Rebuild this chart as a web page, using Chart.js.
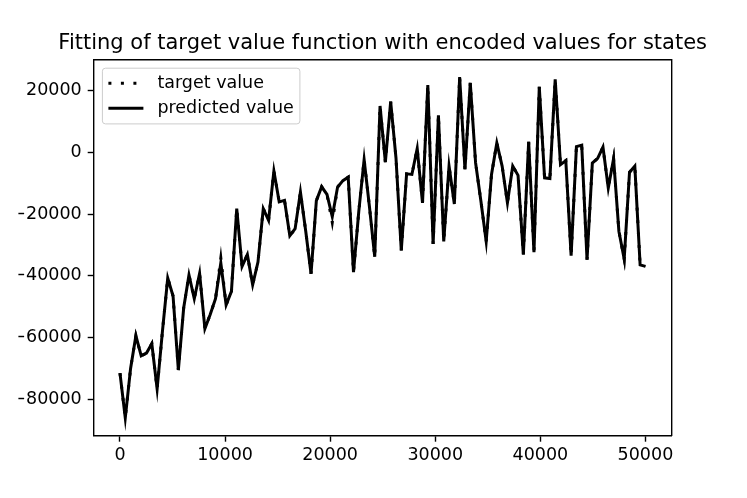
<!DOCTYPE html>
<html>
<head>
<meta charset="utf-8">
<script src="https://cdn.jsdelivr.net/npm/chart.js@4/dist/chart.umd.min.js"></script>
<style>
  html, body { margin: 0; padding: 0; background: #fff; }
  canvas { display: block; }
</style>
</head>
<body>
<canvas id="fit-chart" width="747" height="498"></canvas>
<script>
// x positions of the 100 samples (0 .. 50000)
const xValues = [
    0, 505, 1010, 1515, 2020, 2525, 3030, 3535, 4040, 4545,
    5051, 5556, 6061, 6566, 7071, 7576, 8081, 8586, 9091, 9596,
    10101, 10606, 11111, 11616, 12121, 12626, 13131, 13636, 14141, 14646,
    15152, 15657, 16162, 16667, 17172, 17677, 18182, 18687, 19192, 19697,
    20202, 20707, 21212, 21717, 22222, 22727, 23232, 23737, 24242, 24747,
    25253, 25758, 26263, 26768, 27273, 27778, 28283, 28788, 29293, 29798,
    30303, 30808, 31313, 31818, 32323, 32828, 33333, 33838, 34343, 34848,
    35354, 35859, 36364, 36869, 37374, 37879, 38384, 38889, 39394, 39899,
    40404, 40909, 41414, 41919, 42424, 42929, 43434, 43939, 44444, 44949,
    45455, 45960, 46465, 46970, 47475, 47980, 48485, 48990, 49495, 50000
];

const predictedValues = [
    -71500, -86000, -70000, -59400, -65900, -65000, -62000, -76600, -58000, -40700,
    -46500, -70500, -50400, -39700, -47400, -39200, -57100, -52500, -47400, -35800,
    -49400, -45000, -18200, -36900, -33100, -42900, -35500, -18200, -22000, -6000,
    -16000, -15500, -27000, -24700, -12800, -25500, -39300, -15600, -11100, -13600,
    -20800, -11200, -9100, -8000, -38800, -19000, -2300, -17500, -33800, 15100,
    -3100, 16500, -1700, -31700, -6900, -7100, 1300, -16300, 21900, -29600,
    12100, -28800, -4400, -16700, 24500, -5500, 22600, -3300, -15700, -28800,
    -7100, 3100, -4400, -16300, -4400, -7400, -33100, 3500, -32300, 21300,
    -8200, -8400, 23700, -3900, -2600, -33400, 1900, 2400, -34700, -3400,
    -1900, 1750, -11500, -2000, -25500, -34500, -6400, -4400, -36400, -36900
];

const targetValues = [
    -71500, -86000, -70000, -59400, -65900, -65000, -62000, -76600, -58000, -40700,
    -46500, -70500, -50400, -39700, -47400, -39200, -57100, -52500, -47400, -34200,
    -49400, -45000, -18200, -36900, -33100, -42900, -35500, -18200, -22000, -6000,
    -16000, -15500, -27000, -24700, -12800, -25500, -39300, -15600, -11100, -13600,
    -22700, -11200, -9100, -8000, -38800, -19000, -2300, -17500, -33800, 15100,
    -3100, 16500, -1700, -31700, -6900, -7100, 1300, -16300, 21900, -29600,
    12100, -28800, -4400, -16700, 24500, -5500, 22600, -3300, -15700, -28800,
    -7100, 3100, -4400, -16300, -4400, -7400, -33100, 3500, -32300, 21300,
    -8200, -8400, 23700, -3900, -2600, -33400, 1900, 2400, -34700, -3400,
    -1900, 1750, -11500, -2000, -25500, -34500, -6400, -4400, -36400, -36900
];

const xTicks = [0, 10000, 20000, 30000, 40000, 50000];
const yTicks = [-80000, -60000, -40000, -20000, 0, 20000];

const toPoints = vals => vals.map((v, i) => ({ x: xValues[i], y: v }));
const fmt = v => (v < 0 ? '\u2212' + Math.abs(v) : String(v));

Chart.defaults.font.family = "'DejaVu Sans', sans-serif";
Chart.defaults.color = '#000';

const fixSize = (prop, size) => scale => {
    scale[prop] = size;
    scale.paddingTop = 0;
    scale.paddingBottom = 0;
    scale.paddingLeft = 0;
    scale.paddingRight = 0;
};

// matplotlib-like legend box in the upper left corner of the axes
const boxLegend = {
    id: 'boxLegend',
    afterDatasetsDraw(chart) {
        const { ctx, chartArea } = chart;
        const x = chartArea.left + 8.7;
        const y = chartArea.top + 8.5;
        ctx.save();
        ctx.beginPath();
        ctx.roundRect(x, y, 197.5, 55.7, 3);
        ctx.fillStyle = 'rgba(255,255,255,0.8)';
        ctx.fill();
        ctx.strokeStyle = '#cccccc';
        ctx.lineWidth = 1;
        ctx.stroke();

        chart.data.datasets.forEach((ds, i) => {
            const rowY = y + 15 + i * 25;
            ctx.beginPath();
            ctx.setLineDash(ds.borderDash || []);
            ctx.lineCap = 'butt';
            ctx.strokeStyle = ds.borderColor;
            ctx.lineWidth = ds.borderWidth;
            ctx.moveTo(x + 6, rowY);
            ctx.lineTo(x + 41, rowY);
            ctx.stroke();
            ctx.setLineDash([]);
            ctx.fillStyle = '#000';
            ctx.font = "17.5px 'DejaVu Sans'";
            ctx.textBaseline = 'middle';
            ctx.textAlign = 'left';
            ctx.fillText(ds.label, x + 55, rowY);
        });
        ctx.restore();
    }
};

const tickGrid = {
    display: true,
    drawOnChartArea: false,
    drawTicks: true,
    tickLength: 6,
    tickColor: '#000',
    tickWidth: 1.4
};
const spine = { display: true, color: '#000', width: 1.4 };

const fitChart = new Chart(document.getElementById('fit-chart'), {
    type: 'line',
    data: {
        datasets: [{
            label: 'target value',
            data: toPoints(targetValues),
            borderColor: '#000',
            borderWidth: 3,
            borderDash: [3, 9.5],
            pointRadius: 0,
            tension: 0
        }, {
            label: 'predicted value',
            data: toPoints(predictedValues),
            borderColor: '#000',
            borderWidth: 3,
            pointRadius: 0,
            tension: 0
        }]
    },
    options: {
        responsive: false,
        animation: false,
        devicePixelRatio: 1,
        layout: { padding: { top: 31.4, left: 18.4, right: 0, bottom: 0 } },
        plugins: {
            legend: { display: false },
            tooltip: { enabled: false },
            title: {
                display: true,
                text: 'Fitting of target value function with encoded values for states',
                font: { size: 21, weight: 'normal' },
                color: '#000',
                padding: { top: 0, bottom: 3.1 }
            }
        },
        scales: {
            x: {
                type: 'linear',
                position: 'bottom',
                min: -2500,
                max: 52500,
                afterBuildTicks: scale => { scale.ticks = xTicks.map(v => ({ value: v })); },
                afterFit: fixSize('height', 62.3),
                ticks: { font: { size: 17.5 }, padding: 3.6, maxRotation: 0, callback: v => fmt(v) },
                grid: tickGrid,
                border: spine
            },
            y: {
                type: 'linear',
                position: 'left',
                min: -91800,
                max: 30100,
                afterBuildTicks: scale => { scale.ticks = yTicks.map(v => ({ value: v })); },
                afterFit: fixSize('width', 75.3),
                ticks: { font: { size: 17.5 }, padding: 6, callback: v => fmt(v) },
                grid: tickGrid,
                border: spine
            },
            x2: {
                type: 'linear',
                position: 'top',
                afterFit: fixSize('height', 0),
                ticks: { display: false },
                grid: { display: false },
                border: spine
            },
            y2: {
                type: 'linear',
                position: 'right',
                afterFit: fixSize('width', 75.3),
                ticks: { display: false },
                grid: { display: false },
                border: spine
            }
        }
    },
    plugins: [boxLegend]
});
</script>
</body>
</html>
